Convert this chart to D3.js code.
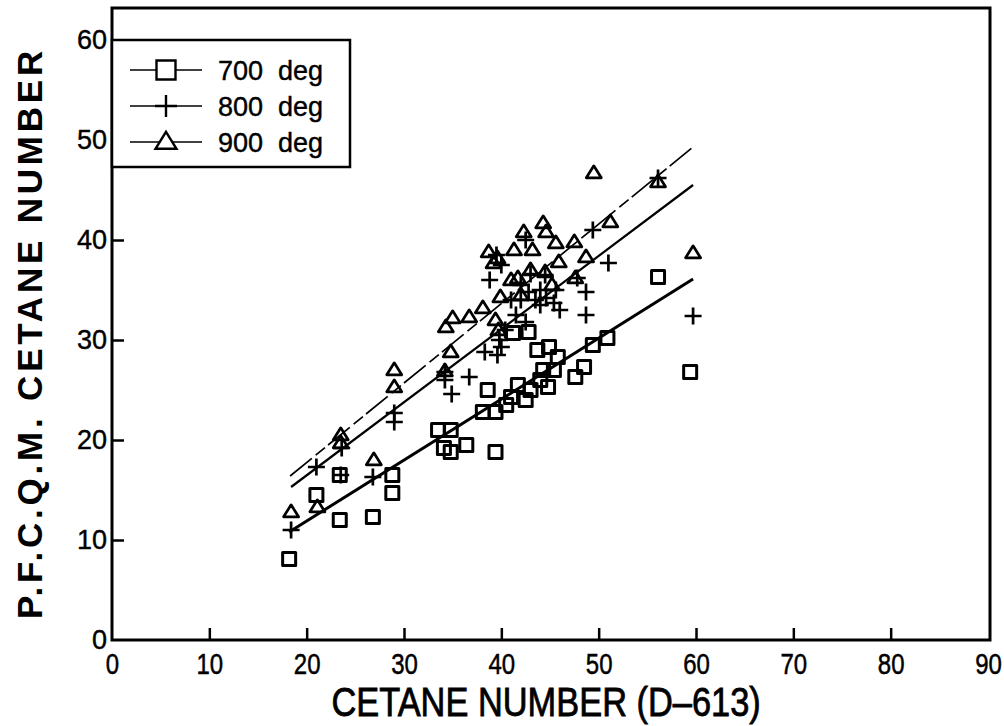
<!DOCTYPE html>
<html>
<head>
<meta charset="utf-8">
<script src="https://cdn.jsdelivr.net/npm/d3@7"></script>
<style>
  html, body { margin: 0; padding: 0; background: #fff; }
  svg { display: block; }
  text { fill: #000; }
</style>
</head>
<body>
<svg id="chart" width="1004" height="726"></svg>
<script>
// Axis ticks
const xTicks = [0, 10, 20, 30, 40, 50, 60, 70, 80, 90];
const yTicks = [0, 10, 20, 30, 40, 50, 60];

// 700 deg measurements: [D-613 cetane number, PFCQM cetane number]
const deg700 = [
  [18.2, 8.1], [21.0, 14.5], [23.4, 16.5], [23.4, 12.0], [26.8, 12.3],
  [28.8, 16.5], [28.8, 14.7], [33.5, 21.0], [34.8, 21.0], [34.1, 19.2],
  [34.8, 18.8], [36.4, 19.5], [38.1, 22.8], [39.4, 22.8], [39.4, 18.8],
  [38.6, 25.0], [40.5, 23.5], [41.0, 24.3], [41.7, 25.5], [42.5, 24.0],
  [43.0, 25.0], [44.0, 26.0], [44.8, 25.3], [44.3, 27.0], [45.4, 27.0],
  [45.8, 28.3], [44.9, 29.3], [43.7, 29.0], [42.8, 30.8], [41.2, 30.7],
  [47.6, 26.3], [48.5, 27.3], [49.4, 29.5], [50.9, 30.2], [56.1, 36.3],
  [59.4, 26.8]
];

// 800 deg measurements
const deg800 = [
  [18.4, 11.0], [21.0, 17.3], [23.5, 16.5], [23.6, 19.2], [26.8, 16.3],
  [29.0, 22.7], [29.0, 21.8], [34.2, 26.8], [34.2, 26.0], [34.9, 24.6],
  [36.7, 26.3], [38.3, 28.8], [39.6, 28.5], [39.8, 30.0], [40.0, 29.3],
  [40.4, 31.0], [38.8, 36.0], [39.5, 38.5], [40.0, 37.5], [41.0, 34.0],
  [41.5, 32.5], [42.0, 34.0], [42.0, 35.5], [42.5, 31.8], [42.8, 34.8],
  [43.5, 34.0], [44.0, 35.0], [44.6, 34.2], [45.4, 33.7], [45.6, 35.0],
  [44.5, 36.5], [43.0, 36.6], [42.5, 40.0], [47.8, 36.2], [48.7, 34.8],
  [48.7, 32.5], [49.4, 41.0], [51.0, 37.7], [56.1, 46.2], [59.7, 32.4],
  [46.0, 33.0], [44.0, 33.5]
];

// 900 deg measurements
const deg900 = [
  [18.4, 12.8], [21.1, 13.3], [23.5, 20.5], [23.5, 19.7], [26.9, 18.0],
  [29.0, 27.0], [29.0, 25.3], [34.2, 26.9], [34.8, 28.8], [34.3, 31.3],
  [35.0, 32.2], [36.7, 32.3], [38.1, 33.2], [39.4, 32.0], [39.7, 31.0],
  [39.9, 34.3], [38.7, 38.8], [39.2, 37.7], [39.6, 38.2], [41.0, 36.0],
  [41.7, 36.2], [41.3, 39.0], [42.3, 40.8], [43.2, 39.0], [44.3, 41.7],
  [44.6, 40.8], [45.6, 39.7], [47.5, 39.8], [45.9, 37.8], [47.6, 36.2],
  [48.7, 38.3], [51.2, 41.8], [49.5, 46.7], [56.1, 45.8], [59.7, 38.7],
  [43.0, 37.0], [44.5, 36.8], [42.0, 34.5], [45.2, 35.5]
];

// Least-squares fit lines (end points)
const fit700 = [[18.2, 10.8], [59.7, 36.1]];
const fit800 = [[18.4, 15.3], [59.7, 45.5]];
const fit900 = [[18.3, 16.4], [59.7, 49.3]];

const legendLabels = ["700  deg", "800  deg", "900  deg"];

const svg = d3.select("#chart");
const x = d3.scaleLinear().domain([0, 90]).range([112, 988]);
const y = d3.scaleLinear().domain([0, 60]).range([640, 40]);
const plotTop = 8, plotRight = 990;

const fontFamily = "'Liberation Sans', Arial, sans-serif";

// Frame
svg.append("rect")
  .attr("x", x(0)).attr("y", plotTop)
  .attr("width", plotRight - x(0)).attr("height", y(0) - plotTop)
  .attr("fill", "none").attr("stroke", "#000").attr("stroke-width", 3);

// Bottom axis: inward ticks, condensed labels
const xAxis = d3.axisBottom(x).tickValues(xTicks).tickSizeInner(-12).tickSizeOuter(0)
  .tickPadding(13).tickFormat(d3.format("d"));
const gx = svg.append("g").attr("transform", `translate(0,${y(0)})`).call(xAxis);
gx.select(".domain").remove();
gx.selectAll(".tick line").attr("stroke", "#000").attr("stroke-width", 2.5)
  .filter(d => d === 0 || d === 90).remove();
gx.selectAll(".tick text").attr("font-family", fontFamily).attr("font-size", 30)
  .attr("transform", "scale(0.8,1)")
  .attr("fill", "#000").attr("stroke", "#000").attr("stroke-width", 0.5);

// Left axis: inward ticks
const yAxis = d3.axisLeft(y).tickValues(yTicks).tickSizeInner(-12).tickSizeOuter(0)
  .tickPadding(5).tickFormat(d3.format("d"));
const gy = svg.append("g").attr("transform", `translate(${x(0)},0)`).call(yAxis);
gy.select(".domain").remove();
gy.selectAll(".tick line").attr("stroke", "#000").attr("stroke-width", 2.5)
  .filter(d => d === 0).remove();
gy.selectAll(".tick text").attr("font-family", fontFamily).attr("font-size", 27)
  .attr("fill", "#000").attr("stroke", "#000").attr("stroke-width", 0.4);

// Axis titles
svg.append("text")
  .attr("transform", `translate(${x(44.6)},716) scale(0.86,1)`)
  .attr("text-anchor", "middle")
  .attr("font-family", fontFamily)
  .attr("font-size", 40)
  .attr("stroke", "#000").attr("stroke-width", 0.8)
  .text("CETANE NUMBER (D\u2013613)");

svg.append("text")
  .attr("transform", `translate(42,333) rotate(-90)`)
  .attr("text-anchor", "middle")
  .attr("font-family", fontFamily).attr("font-weight", "bold")
  .attr("font-size", 35)
  .attr("letter-spacing", 3.8)
  .text("P.F.C.Q.M. CETANE NUMBER");

// Fit lines
const line = d3.line().x(d => x(d[0])).y(d => y(d[1]));
svg.append("path").datum(fit700).attr("d", line)
  .attr("fill", "none").attr("stroke", "#000").attr("stroke-width", 3);
svg.append("path").datum(fit800).attr("d", line)
  .attr("fill", "none").attr("stroke", "#000").attr("stroke-width", 2.2);
svg.append("path").datum(fit900).attr("d", line)
  .attr("fill", "none").attr("stroke", "#000").attr("stroke-width", 1.7)
  .attr("stroke-dasharray", "28,5,12,4");

// Marker shapes
const squarePath = s => `M${-s/2},${-s/2}h${s}v${s}h${-s}Z`;
const plusPath = s => `M${-s/2},0h${s}M0,${-s/2}v${s}`;
const triPath = (w, h) => `M0,${-h*0.6}L${w/2},${h*0.4}L${-w/2},${h*0.4}Z`;

function drawMarkers(data, d, sw) {
  svg.append("g").selectAll("path").data(data).join("path")
    .attr("transform", p => `translate(${x(p[0])},${y(p[1])})`)
    .attr("d", d)
    .attr("fill", "none").attr("stroke", "#000").attr("stroke-width", sw)
    .attr("stroke-linejoin", "round");
}
drawMarkers(deg700, squarePath(13), 3);
drawMarkers(deg800, plusPath(17), 2.7);
drawMarkers(deg900, triPath(15, 12), 2.7);

// Legend
const lg = svg.append("g");
lg.append("rect").attr("x", 112).attr("y", 40).attr("width", 238).attr("height", 127)
  .attr("fill", "#fff").attr("stroke", "#000").attr("stroke-width", 2.5);
const legendMarks = [squarePath(19), plusPath(22), triPath(21, 17)];
legendLabels.forEach((lab, i) => {
  const cy = 70 + i * 36;
  lg.append("line").attr("x1", 130).attr("x2", 202).attr("y1", cy).attr("y2", cy)
    .attr("stroke", "#000").attr("stroke-width", 1.6);
  lg.append("path").attr("transform", `translate(166,${cy})`).attr("d", legendMarks[i])
    .attr("fill", "#fff").attr("stroke", "#000").attr("stroke-width", 2.4);
  lg.append("text").attr("x", 218).attr("y", cy + 10)
    .attr("font-family", fontFamily).attr("font-size", 27)
    .attr("stroke", "#000").attr("stroke-width", 0.4)
    .style("white-space", "pre")
    .text(lab);
});
</script>
</body>
</html>
